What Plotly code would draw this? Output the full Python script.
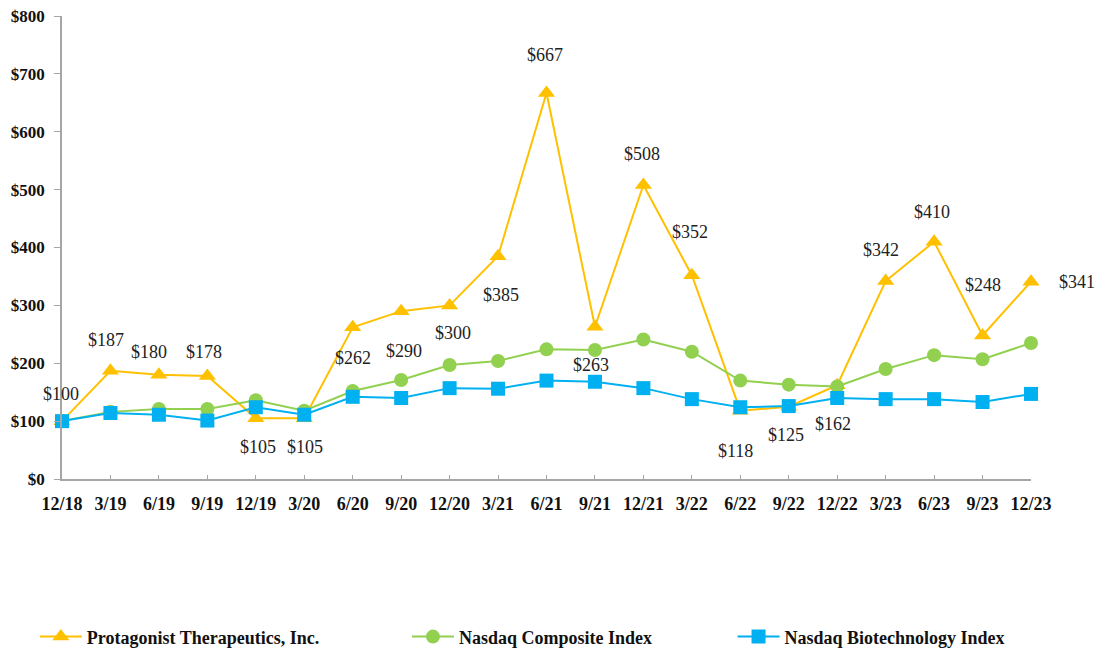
import plotly.graph_objects as go

quarters = ["12/18", "3/19", "6/19", "9/19", "12/19", "3/20", "6/20", "9/20", "12/20", "3/21",
            "6/21", "9/21", "12/21", "3/22", "6/22", "9/22", "12/22", "3/23", "6/23", "9/23", "12/23"]
protagonist = [100, 187, 180, 178, 105, 105, 262, 290, 300, 385, 667, 263, 508, 352, 118, 125, 162, 342, 410, 248, 341]
nasdaq_comp = [100, 116, 121, 121, 136, 118, 152, 171, 197, 204, 224, 223, 241, 220, 170, 163, 160, 190, 214, 207, 235]
nasdaq_bio = [100, 114, 111, 101, 124, 111, 142, 140, 157, 156, 170, 168, 157, 138, 124, 126, 140, 138, 138, 133, 147]

# label pixel offsets (xshift, yshift) for the Protagonist data labels
label_offsets = [(-1, 27), (-4, 31), (-10, 23), (-3, 24), (2, -29), (1, -29), (0, -31), (3, -40), (3, -28), (3, -39),
                 (-2, 38), (-4, -38), (-1, 31), (-2, 43), (-5, -40), (-3, -28), (-4, -39), (-5, 31), (-2, 30), (0, 50), (46, 0)]

FONT = "Liberation Serif, Times New Roman, serif"
ORANGE = "#FFC000"
GREEN = "#92D050"
BLUE = "#00B0F0"

fig = go.Figure()
fig.add_trace(go.Scatter(x=quarters, y=protagonist, mode="lines+markers", name="Protagonist Therapeutics, Inc.",
                         line=dict(color=ORANGE, width=2),
                         marker=dict(symbol="triangle-up", size=15, color=ORANGE),
                         cliponaxis=False, legend="legend"))
fig.add_trace(go.Scatter(x=quarters, y=nasdaq_comp, mode="lines+markers", name="Nasdaq Composite Index",
                         line=dict(color=GREEN, width=2),
                         marker=dict(symbol="circle", size=14, color=GREEN),
                         cliponaxis=False, legend="legend2"))
fig.add_trace(go.Scatter(x=quarters, y=nasdaq_bio, mode="lines+markers", name="Nasdaq Biotechnology Index",
                         line=dict(color=BLUE, width=2),
                         marker=dict(symbol="square", size=14, color=BLUE),
                         cliponaxis=False, legend="legend3"))

for q, v, (dx, dy) in zip(quarters, protagonist, label_offsets):
    fig.add_annotation(x=q, y=v, text=f"${v}", showarrow=False, xshift=dx, yshift=dy,
                       font=dict(family=FONT, size=18, color="#222222"))

legend_style = dict(orientation="h", yanchor="middle", xanchor="left", itemwidth=42,
                    font=dict(family=FONT, size=18, color="#111111", weight="bold"),
                    bgcolor="rgba(0,0,0,0)")

fig.update_layout(
    width=1101, height=652,
    margin=dict(l=62, r=70, t=16, b=173, autoexpand=False),
    paper_bgcolor="white", plot_bgcolor="white",
    font=dict(family=FONT),
    showlegend=True,
    legend=dict(x=-0.028, y=-0.341, **legend_style),
    legend2=dict(x=0.356, y=-0.341, **legend_style),
    legend3=dict(x=0.692, y=-0.341, **legend_style),
    xaxis=dict(type="category", range=[0, 20], showgrid=False, showline=True, linecolor="#A6A6A6", linewidth=1.5,
               ticks="inside", ticklen=4, tickcolor="#A6A6A6", automargin=False, ticklabelstandoff=8,
               tickfont=dict(family=FONT, size=18, color="#111111", weight="bold"), zeroline=False),
    yaxis=dict(range=[0, 800], dtick=100, showgrid=False, showline=True, linecolor="#A6A6A6", linewidth=1.5,
               ticks="outside", ticklen=6, tickcolor="#A6A6A6", tickprefix="$", ticklabelstandoff=6, automargin=False,
               tickfont=dict(family=FONT, size=17, color="#111111", weight="bold"), zeroline=False),
)

fig.write_html("out.html")
